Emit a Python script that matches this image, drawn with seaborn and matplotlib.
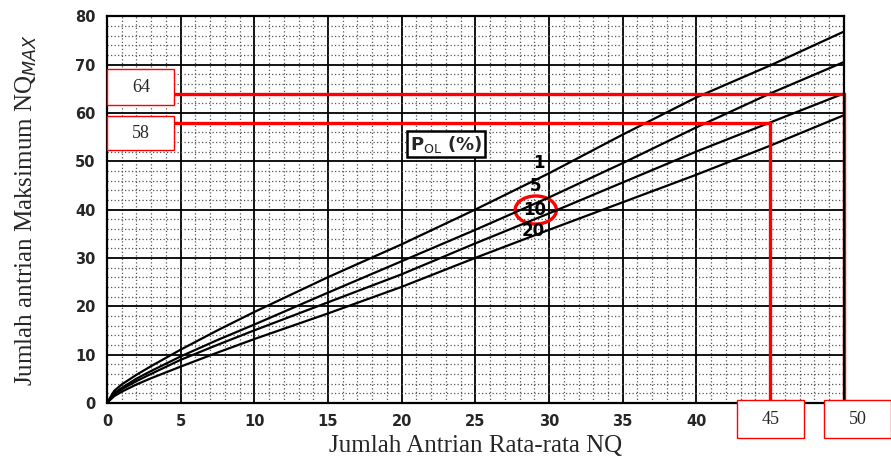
import numpy as np
import pandas as pd
import matplotlib
matplotlib.use("Agg")
import matplotlib.pyplot as plt
import seaborn as sns
from matplotlib.patches import Rectangle, Ellipse
from matplotlib.ticker import MultipleLocator

# values (NQ -> NQmax for each P_OL curve)
nq = [0, 0.5, 1, 2, 3, 5, 7.5, 10, 15, 20, 25, 30, 35, 40, 45, 50]
p1 = [0, 2.5, 3.8, 5.8, 7.6, 11.0, 15.0, 18.8, 26.0, 32.8, 40.0, 47.5, 55.5, 63.2, 69.8, 76.8]
p5 = [0, 2.0, 3.1, 5.0, 6.6, 9.6, 13.0, 16.2, 22.8, 29.3, 35.8, 42.5, 49.6, 57.0, 64.0, 70.5]
p10 = [0, 1.8, 2.8, 4.5, 6.0, 8.9, 12.0, 15.0, 20.8, 26.6, 33.0, 39.2, 45.6, 52.0, 58.0, 64.0]
p20 = [0, 1.4, 2.3, 3.8, 5.1, 7.5, 10.4, 13.2, 18.5, 24.0, 30.0, 35.8, 41.5, 47.2, 53.2, 59.5]
pol = ["1", "5", "10", "20"]

# readings marked in red
read_nq = [50, 45]
read_max = [64, 58]

df = pd.DataFrame({
    "NQ": nq * 4,
    "NQmax": p1 + p5 + p10 + p20,
    "P": [p for p in pol for _ in nq],
})

sns.set_style("white")
fig = plt.figure(figsize=(8.91, 4.62), dpi=100)
ax = fig.add_axes([0.120, 0.128, 0.827, 0.837])

# graph paper grid
ax.xaxis.set_major_locator(MultipleLocator(5))
ax.xaxis.set_minor_locator(MultipleLocator(1))
ax.yaxis.set_major_locator(MultipleLocator(10))
ax.yaxis.set_minor_locator(MultipleLocator(2))
ax.grid(which="major", color="black", lw=1.3)
ax.grid(which="minor", color="#555555", lw=0.9, ls=(0, (1, 1.8)))
ax.set_axisbelow(True)

sns.lineplot(data=df, x="NQ", y="NQmax", hue="P",
             palette={p: "black" for p in pol}, lw=1.6,
             legend=False, ax=ax)

ax.set_xlim(0, 50)
ax.set_ylim(0, 80)
for s in ax.spines.values():
    s.set_color("black")
    s.set_linewidth(1.6)
ax.tick_params(which="major", direction="out", length=5, width=1.5,
               color="black", labelsize=10.5, pad=3)
ax.tick_params(which="minor", direction="out", length=4, width=1.5,
               color="black")
ax.set_xticks(range(0, 45, 5))
for lab in ax.get_xticklabels() + ax.get_yticklabels():
    lab.set_fontweight("bold")

ax.set_xlabel("Jumlah Antrian Rata-rata NQ", family="Liberation Serif",
              fontsize=18, labelpad=4)
ax.set_ylabel("Jumlah antrian Maksimum NQ$_{\\it{MAX}}$",
              family="Liberation Serif", fontsize=18, labelpad=26)

# curve labels and the P_OL box
lab_x = [29.3, 29.1, 29.0, 28.9]
lab_y = [49.6, 44.8, 39.9, 35.6]
for t, x, y in zip(pol, lab_x, lab_y):
    ax.text(x, y, t, ha="center", va="center", fontsize=12,
            fontweight="bold", color="black")
ax.text(23, 53.5, "P$_{\\mathrm{OL}}$ (%)", ha="center", va="center",
        fontsize=13, fontweight="bold",
        bbox=dict(boxstyle="square,pad=0.15", fc="white", ec="black", lw=1.8))
ax.add_patch(Ellipse((29.1, 39.9), 2.8, 5.8, fill=False, ec="red", lw=2.4))

# red reading lines
for x, y in zip(read_nq, read_max):
    ax.plot([4.5, x, x], [y, y, 0], color="red", lw=2.4, clip_on=False,
            solid_joinstyle="miter")

# value boxes
ybox = [(61.6, 7.4), (52.3, 7.0)]
for v, (y0, h) in zip(read_max, ybox):
    ax.add_patch(Rectangle((0, y0), 4.55, h, fc="white", ec="red", lw=1.0,
                           clip_on=False, zorder=5))
    ax.text(2.3, y0 + h / 2, str(v), ha="center", va="center",
            family="Liberation Serif", fontsize=13, zorder=6)
xbox = [48.65, 42.75]
for v, x0 in zip(read_nq, xbox):
    ax.add_patch(Rectangle((x0, -7.3), 4.55, 7.9, fc="white", ec="red",
                           lw=1.0, clip_on=False, zorder=5))
    ax.text(x0 + 2.3, -3.4, str(v), ha="center", va="center",
            family="Liberation Serif", fontsize=13, zorder=6, clip_on=False)

fig.savefig("out.png", dpi=100)
